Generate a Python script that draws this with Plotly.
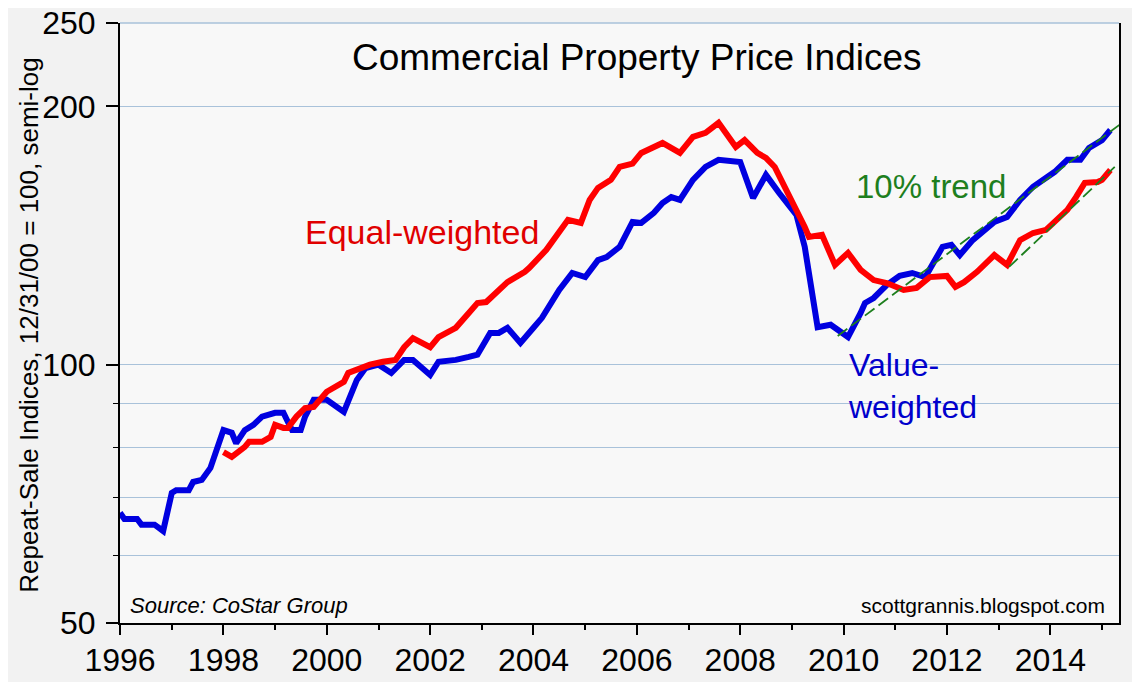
import plotly.graph_objects as go

# Value-weighted index (monthly readings, 12/31/00 = 100)
value_dates = [
    "1996-01", "1996-02", "1996-05", "1996-06", "1996-09", "1996-11",
    "1997-01", "1997-02", "1997-05", "1997-06", "1997-08", "1997-10",
    "1998-01", "1998-03", "1998-04", "1998-06", "1998-08", "1998-10",
    "1999-01", "1999-03", "1999-04", "1999-05", "1999-07", "1999-08", "1999-10",
    "2000-01", "2000-05", "2000-08", "2000-10",
    "2001-01", "2001-04", "2001-07", "2001-09",
    "2002-01", "2002-03", "2002-07", "2002-10", "2002-12",
    "2003-03", "2003-05", "2003-07", "2003-10",
    "2004-01", "2004-03", "2004-07", "2004-10",
    "2005-01", "2005-04", "2005-06", "2005-09", "2005-12",
    "2006-02", "2006-05", "2006-07", "2006-09", "2006-11",
    "2007-02", "2007-05", "2007-08", "2007-11",
    "2008-01", "2008-04", "2008-07", "2008-10",
    "2009-02", "2009-04", "2009-07", "2009-10",
    "2010-01", "2010-02", "2010-05", "2010-06", "2010-08", "2010-11",
    "2011-02", "2011-05", "2011-08", "2011-10", "2011-12",
    "2012-02", "2012-04", "2012-07", "2012-10", "2012-12",
    "2013-03", "2013-06", "2013-09", "2013-12",
    "2014-02", "2014-05", "2014-08", "2014-10",
    "2015-01", "2015-03",
]
value_weighted = [
    67.2, 66.1, 66.1, 65.1, 65.1, 64.0,
    70.9, 71.4, 71.4, 73.0, 73.4, 75.8,
    83.9, 83.3, 81.0, 83.9, 85.1, 87.0,
    87.9, 87.9, 85.8, 83.9, 83.9, 87.0, 91.0,
    91.0, 88.1, 96.0, 99.1,
    100.0, 97.8, 101.3, 101.3,
    97.3, 100.8, 101.3, 102.1, 102.7,
    108.9, 108.9, 110.4, 106.0,
    110.4, 113.4, 122.2, 127.9,
    126.5, 132.4, 133.5, 137.2, 146.7,
    146.3, 150.3, 154.3, 156.8, 155.6,
    164.2, 170.0, 173.3, 172.3,
    172.3, 156.4, 166.4, 158.6,
    149.5, 137.2, 110.6, 111.3,
    108.9, 107.7, 114.9, 118.0, 119.6, 123.8,
    126.9, 127.9, 126.5, 131.4, 137.2,
    137.9, 134.2, 139.7, 143.6, 146.7,
    148.6, 155.6, 161.2, 165.5,
    167.8, 173.3, 173.3, 178.9,
    182.7, 187.7,
]

# Equal-weighted index
equal_dates = [
    "1998-01", "1998-03", "1998-06", "1998-07", "1998-10", "1998-12",
    "1999-01", "1999-03", "1999-04", "1999-06", "1999-08", "1999-10",
    "2000-01", "2000-05", "2000-06", "2000-11",
    "2001-02", "2001-05", "2001-07", "2001-09",
    "2002-01", "2002-03", "2002-06", "2002-07", "2002-10", "2002-12",
    "2003-02", "2003-05", "2003-07", "2003-11", "2003-12",
    "2004-04", "2004-07", "2004-09", "2004-12",
    "2005-02", "2005-04", "2005-07", "2005-09", "2005-12",
    "2006-02", "2006-07", "2006-11",
    "2007-02", "2007-05", "2007-07", "2007-08", "2007-12",
    "2008-02", "2008-05", "2008-07", "2008-09",
    "2009-01", "2009-04", "2009-05", "2009-08", "2009-11",
    "2010-02", "2010-05", "2010-08", "2010-11",
    "2011-03", "2011-06", "2011-09",
    "2012-01", "2012-03", "2012-05", "2012-08", "2012-12",
    "2013-03", "2013-06", "2013-09", "2013-12",
    "2014-03", "2014-05", "2014-07", "2014-09", "2014-12",
    "2015-01", "2015-03",
]
equal_weighted = [
    79.1, 78.1, 80.2, 81.3, 81.3, 82.4,
    85.1, 84.4, 84.4, 87.0, 89.0, 89.3,
    93.0, 95.5, 97.8, 100.0,
    100.8, 101.3, 104.8, 107.4,
    104.8, 107.7, 109.7, 110.4, 114.9, 118.0,
    118.3, 122.2, 124.8, 128.3, 129.6,
    136.1, 142.8, 147.5, 146.3,
    155.6, 160.7, 164.2, 170.0, 171.5,
    176.5, 181.3, 176.5,
    184.3, 186.3, 189.3, 191.4, 179.4,
    182.7, 176.5, 174.2, 170.0,
    155.6, 144.7, 140.9, 141.7, 130.7,
    135.0, 129.0, 125.5, 124.5,
    122.2, 122.9, 126.5,
    126.9, 123.2, 124.8, 128.3, 134.2,
    130.7, 139.7, 142.4, 143.6,
    148.6, 151.5, 156.8, 162.9, 163.3,
    164.2, 168.6,
]

# 10% trend lines (end points)
value_trend_dates = ["2009-11-20", "2015-06-20"]
value_trend = [108.0, 192.9]
equal_trend_dates = ["2013-03-15", "2015-04-01"]
equal_trend = [130.0, 170.0]

major_years = [str(y) for y in range(1996, 2015, 2)]
y_ticks = [50, 100, 200, 250]
y_minor = [60, 70, 80, 90]

FONT = "Liberation Sans"
RED = "#FF0000"
BLUE = "#0000E0"
GREEN = "#1E7F1E"
GRID = "#A9C2DA"

fig = go.Figure()
fig.add_trace(go.Scatter(x=value_dates, y=value_weighted, mode="lines",
                         line=dict(color=BLUE, width=6), name="Value-weighted"))
fig.add_trace(go.Scatter(x=equal_dates, y=equal_weighted, mode="lines",
                         line=dict(color=RED, width=6), name="Equal-weighted"))
fig.add_trace(go.Scatter(x=value_trend_dates, y=value_trend, mode="lines",
                         line=dict(color=GREEN, width=1.8, dash="12px,5px")))
fig.add_trace(go.Scatter(x=equal_trend_dates, y=equal_trend, mode="lines",
                         line=dict(color=GREEN, width=1.8, dash="12px,5px")))


def note(text, x, y, size, color, xanchor="center", align="center"):
    return dict(text=text, xref="paper", yref="paper", x=x, y=y,
                xanchor=xanchor, yanchor="middle", align=align, showarrow=False,
                font=dict(size=size, color=color, family=FONT))


# page body has an 8px margin, so the figure is shrunk by 8px to fit the window
fig.update_layout(
    width=1132, height=674,
    margin=dict(l=112, r=21, t=15, b=59),
    paper_bgcolor="#F2F2F2",
    plot_bgcolor="#F8F8F8",
    showlegend=False,
    font=dict(family=FONT, color="black"),
    xaxis=dict(
        type="date",
        range=["1996-01-01", "2015-05-01"],
        tickmode="array",
        tickvals=[y + "-01-01" for y in major_years],
        ticktext=major_years,
        ticks="outside", ticklen=10, tickwidth=1.5, tickcolor="black",
        tickfont=dict(size=32, family=FONT),
        ticklabelstandoff=-2, ticklabeloverflow="allow",
        showline=True, linecolor="black", linewidth=2,
        showgrid=False, zeroline=False, automargin=False,
        minor=dict(dtick="M12", tick0="1996-01-01", ticks="outside",
                   ticklen=5, tickwidth=1.5, tickcolor="black", showgrid=False),
    ),
    yaxis=dict(
        type="log",
        range=[1.6989699, 2.3982],
        tickmode="array",
        tickvals=y_ticks,
        ticktext=[str(v) for v in y_ticks],
        ticks="outside", ticklen=12, tickwidth=1.5, tickcolor="black",
        tickfont=dict(size=32, family=FONT),
        ticklabelstandoff=4, ticklabeloverflow="allow",
        showline=True, linecolor="black", linewidth=2, mirror=True,
        showgrid=True, gridcolor=GRID, gridwidth=1,
        zeroline=False, automargin=False,
        minor=dict(tickmode="array", tickvals=y_minor, ticks="outside",
                   ticklen=5, tickwidth=1, tickcolor="black",
                   showgrid=True, gridcolor=GRID, gridwidth=1),
    ),
    shapes=[
        # top edge of the frame is drawn like a grid line
        dict(type="line", xref="paper", yref="paper", x0=0, x1=1, y0=1, y1=1,
             line=dict(color=GRID, width=1.5)),
    ],
    annotations=[
        note("Commercial Property Price Indices", 0.5175, 0.942, 37, "black"),
        dict(text="Repeat-Sale Indices, 12/31/00 = 100, semi-log", xref="paper", yref="paper",
             x=-0.0911, y=0.497, xanchor="center", yanchor="middle", textangle=-90,
             showarrow=False, font=dict(size=26, color="black", family=FONT)),
        note("Equal-weighted", 0.302, 0.652, 34, "#E00000"),
        note("10% trend", 0.812, 0.727, 33, GREEN),
        note("Value-<br>weighted", 0.727, 0.395, 32, "#0000CC", xanchor="left", align="left"),
        note("<i>Source: CoStar Group</i>", 0.008, 0.03, 22, "black", xanchor="left"),
        note("scottgrannis.blogspot.com", 0.988, 0.03, 21, "black", xanchor="right"),
    ],
)

fig.write_html("out.html")
